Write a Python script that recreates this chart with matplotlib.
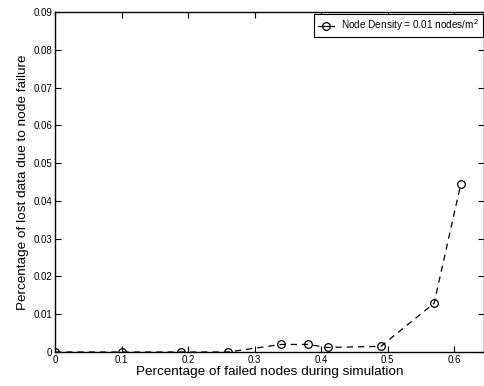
import matplotlib
matplotlib.use('Agg')
import matplotlib.pyplot as plt
import numpy as np

# valores
falhos = [0.0, 0.10, 0.19, 0.26, 0.34, 0.38, 0.41, 0.49, 0.57, 0.61]
perdidos = [0.0, 0.0, 0.0, 0.0, 0.0020, 0.0020, 0.0012, 0.0015, 0.0129, 0.0444]
xticks = [0, 0.1, 0.2, 0.3, 0.4, 0.5, 0.6]
yticks = [0, 0.01, 0.02, 0.03, 0.04, 0.05, 0.06, 0.07, 0.08, 0.09]

plt.rcParams['font.family'] = ['Liberation Sans', 'DejaVu Sans']

fig = plt.figure(figsize=(4.85, 3.86), dpi=100)
ax = fig.add_axes([55/485, 34/386, 429/485, 340/386])

ax.plot(falhos, perdidos, 'k--', marker='o', markerfacecolor='none',
        markeredgecolor='k', markersize=5.5, linewidth=0.9, markeredgewidth=0.9,
        dashes=(5, 4), label='Node Density = 0.01 nodes/m$^2$')

ax.set_xlim(0, 0.645)
ax.set_ylim(0, 0.09)
ax.set_xticks(xticks)
ax.set_xticklabels(['0', '0.1', '0.2', '0.3', '0.4', '0.5', '0.6'])
ax.set_yticks(yticks)
ax.set_yticklabels(['0', '0.01', '0.02', '0.03', '0.04', '0.05', '0.06', '0.07', '0.08', '0.09'])
ax.tick_params(direction='in', length=4, width=0.8, top=True, right=True,
               labelsize=7, pad=2)
for s in ax.spines.values():
    s.set_linewidth(1.0)

ax.set_xlabel('Percentage of failed nodes during simulation', fontsize=9.7, labelpad=1)
ax.set_ylabel('Percentage of lost data due to node failure', fontsize=9.7, labelpad=3)

leg = ax.legend(loc='upper right', fontsize=7.2, handlelength=1.6, borderpad=0.4,
                fancybox=False, framealpha=1, borderaxespad=0.15, handletextpad=0.7)
leg.get_frame().set_edgecolor('k')
leg.get_frame().set_linewidth(0.8)
leg.get_lines()[0].set_linestyle('-')

plt.savefig('out.png', dpi=100)
